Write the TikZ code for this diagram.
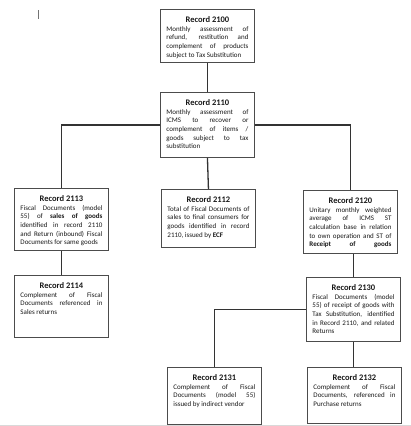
\documentclass[tikz,border=0pt]{standalone}
\usepackage{fontspec}
\setmainfont{Carlito}
\newcommand\jline[1]{\makebox[82pt][s]{#1}}
\newcommand\lline[1]{\makebox[82pt][l]{#1}}
\newcommand\recbody[3]{\parbox[c][#1][t]{94pt}{\centering\fontsize{7}{8.7}\selectfont\rule{0pt}{13pt}{\fontsize{8.5}{8.7}\selectfont\bfseries #2}\\ #3}}
\begin{document}
\begin{tikzpicture}[x=1pt,y=1pt,
  recbox/.style={draw=black!70, line width=0.9pt, inner sep=0pt, anchor=north west, text=black!90, fill=white},
  conn/.style={draw=black!80, line width=1.3pt}]
\fill[white] (0,0) rectangle (411,-426);
\useasboundingbox (0,0) rectangle (411,-426);
% cursor mark and page edge
\draw[black!55, line width=0.6pt] (38,-10) -- (38,-19);
\draw[black!15, line width=0.8pt] (0,-425.5) -- (411,-425.5);

\node[recbox] (r2100) at (160,-9) {\recbody{53pt}{Record 2100}{%
\jline{Monthly assessment of}\\
\jline{refund, restitution and}\\
\jline{complement of products}\\
\lline{subject to Tax Substitution}}};

\node[recbox] (r2110) at (160,-92) {\recbody{65pt}{Record 2110}{%
\jline{Monthly assessment of}\\
\jline{ICMS to recover or}\\
\jline{complement of items /}\\
\jline{goods subject to tax}\\
\lline{substitution}}};

\node[recbox] (r2113) at (14,-188) {\recbody{62pt}{Record 2113}{%
\jline{Fiscal Documents (model}\\
\jline{55) of \textbf{sales of goods}}\\
\jline{identified in record 2110}\\
\jline{and Return (inbound) Fiscal}\\
\lline{Documents for same goods}}};

\node[recbox] (r2112) at (161,-189) {\recbody{58pt}{Record 2112}{%
\jline{Total of Fiscal Documents of}\\
\jline{sales to final consumers for}\\
\jline{goods identified in record}\\
\lline{2110, issued by \textbf{ECF}}}};

\node[recbox] (r2120) at (303,-190) {\recbody{63pt}{Record 2120}{%
\jline{Unitary monthly weighted}\\
\jline{average of ICMS ST}\\
\jline{calculation base in relation}\\
\jline{to own operation and ST of}\\
\jline{\textbf{Receipt of goods}}}};

\node[recbox] (r2114) at (14,-275) {\recbody{62pt}{Record 2114}{%
\jline{Complement of Fiscal}\\
\jline{Documents referenced in}\\
\lline{Sales returns}}};

\node[recbox] (r2130) at (306,-277) {\recbody{64pt}{Record 2130}{%
\jline{Fiscal Documents (model}\\
\jline{55) of receipt of goods with}\\
\jline{Tax Substitution, identified}\\
\jline{in Record 2110, and related}\\
\lline{Returns}}};

\node[recbox] (r2131) at (167,-367) {\recbody{57pt}{Record 2131}{%
\jline{Complement of Fiscal}\\
\jline{Documents (model 55)}\\
\lline{issued by indirect vendor}}};

\node[recbox] (r2132) at (307,-367) {\recbody{56pt}{Record 2132}{%
\jline{Complement of Fiscal}\\
\jline{Documents, referenced in}\\
\lline{Purchase returns}}};

% connectors
\draw[conn] (r2100.south) -- (r2110.north);
\draw[conn] (r2110.west) -| (r2113.north);
\draw[conn] (r2110.east) -| (r2120.north);
\draw[conn] (r2110.south) -- (r2112.north);
\draw[conn] (r2113.south) -- (r2114.north);
\draw[conn] (r2120.south -| r2130.north) -- (r2130.north);
\draw[conn] (r2130.west) -| (r2131.north);
\draw[conn] (r2130.south) -- (r2130.south |- r2132.north);
\end{tikzpicture}
\end{document}
